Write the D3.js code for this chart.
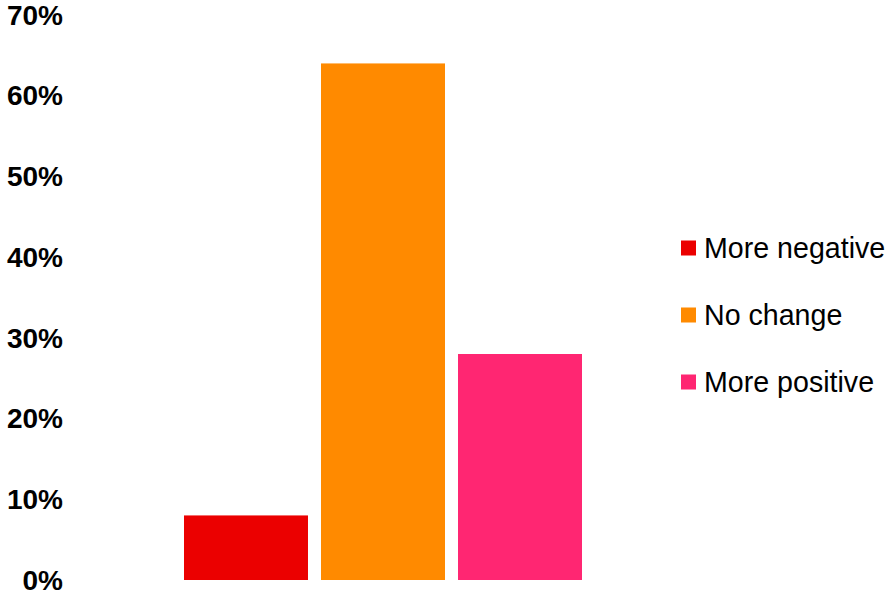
<!DOCTYPE html>
<html>
<head>
<meta charset="utf-8">
<script src="https://cdn.jsdelivr.net/npm/d3@7"></script>
<style>
  html, body { margin: 0; padding: 0; background: #fff; }
  svg { display: block; }
</style>
</head>
<body>
<svg id="chart" width="891" height="593"></svg>
<script>
// Share of responses by direction of change
const categories = ["More negative", "No change", "More positive"];
const values = [8, 64, 28];
const colors = ["#EB0000", "#FF8A00", "#FF2672"];
const tickValues = [0, 10, 20, 30, 40, 50, 60, 70];

const svg = d3.select("#chart");
const font = "'Liberation Sans', Arial, sans-serif";

const y = d3.scaleLinear().domain([0, 70]).range([580, 15]);
const x = d3.scaleBand().domain(categories).range([184, 582])
  .paddingInner(0.095).paddingOuter(0);

// y axis: bold percentage labels only, no line or ticks
const yAxis = d3.axisLeft(y).tickValues(tickValues)
  .tickFormat(d => d + "%").tickSize(0).tickPadding(0);
const gy = svg.append("g").attr("transform", "translate(63,0)").call(yAxis);
gy.select(".domain").remove();
gy.selectAll("text")
  .attr("dy", "0.33em")
  .attr("font-family", font)
  .attr("font-size", 28)
  .attr("font-weight", "bold")
  .attr("fill", "#000");

// bars
svg.append("g").selectAll("rect")
  .data(categories)
  .join("rect")
  .attr("x", d => x(d))
  .attr("width", x.bandwidth())
  .attr("y", (d, i) => y(values[i]))
  .attr("height", (d, i) => y(0) - y(values[i]))
  .attr("fill", (d, i) => colors[i]);

// legend
const legend = svg.append("g").attr("transform", "translate(681,248)");
const item = legend.selectAll("g")
  .data(categories)
  .join("g")
  .attr("transform", (d, i) => `translate(0,${i * 67})`);
item.append("rect")
  .attr("x", 0).attr("y", -7.5)
  .attr("width", 15).attr("height", 15)
  .attr("fill", (d, i) => colors[i]);
item.append("text")
  .attr("x", 23).attr("y", 0).attr("dy", "0.35em")
  .attr("font-family", font)
  .attr("font-size", 28.6)
  .attr("fill", "#000")
  .text(d => d);
</script>
</body>
</html>
